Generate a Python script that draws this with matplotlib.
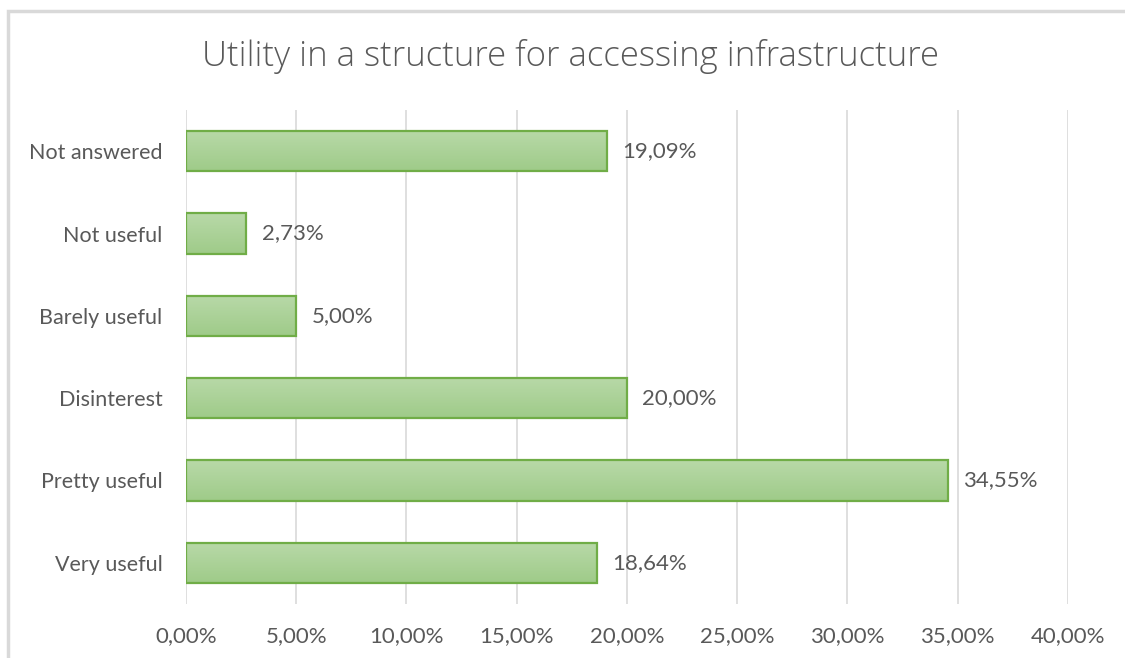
import matplotlib.pyplot as plt
import numpy as np
from matplotlib.patches import Rectangle
from matplotlib.colors import LinearSegmentedColormap

plt.rcParams['font.family'] = ['Lato', 'DejaVu Sans']

# survey answers, bottom to top as drawn
categories = ['Very useful', 'Pretty useful', 'Disinterest',
              'Barely useful', 'Not useful', 'Not answered']
shares = [18.64, 34.55, 20.00, 5.00, 2.73, 19.09]
ticks = [0, 5, 10, 15, 20, 25, 30, 35, 40]

text_col = '#595959'
grid_col = '#d9d9d9'

fig = plt.figure(figsize=(11.25, 6.58), dpi=100)
ax = fig.add_axes([0.1653, 0.0821, 0.9493 - 0.1653, 0.8328 - 0.0821])

# outer chart frame, runs off the right and bottom edges
fig.patches.append(Rectangle((8 / 1125, -0.1), 1.2, 1 - 11 / 658 + 0.1,
                             transform=fig.transFigure, fill=False,
                             edgecolor='#d9d9d9', linewidth=2.5))

y = np.arange(len(categories))
bars = ax.barh(y, shares, height=0.49, color='#acd39a',
               edgecolor='#70ad47', linewidth=1.6, zorder=3)

# soft vertical gradient inside each bar
grad = np.linspace(0, 1, 64).reshape(-1, 1)
cmap = LinearSegmentedColormap.from_list('g', ['#b8d9a8', '#9fcb89'])
for b in bars:
    x0, y0 = b.get_x(), b.get_y()
    w, h = b.get_width(), b.get_height()
    im = ax.imshow(grad, extent=(x0, x0 + w, y0, y0 + h), cmap=cmap,
                   aspect='auto', origin='upper', zorder=3.5)
    im.set_clip_path(b)
    b.set_facecolor('none')
    b.set_zorder(4)

for yi, v in zip(y, shares):
    ax.text(v + 0.7, yi, f'{v:.2f}%'.replace('.', ','), va='center',
            ha='left', fontsize=16, color=text_col)

ax.set_xlim(0, 40)
ax.set_ylim(-0.5, len(categories) - 0.5)
ax.set_xticks(ticks)
ax.set_xticklabels([f'{t:.2f}%'.replace('.', ',') for t in ticks])
ax.set_yticks(y)
ax.set_yticklabels(categories)
ax.tick_params(length=0, labelcolor=text_col)
ax.tick_params(axis='x', pad=16, labelsize=16)
ax.tick_params(axis='y', pad=17, labelsize=15.5)
ax.grid(axis='x', color=grid_col, linewidth=1.2, zorder=0)
for s in ax.spines.values():
    s.set_visible(False)

fig.text(0.5 * (200 + 940) / 1125, 1 - 57 / 658,
         'Utility in a structure for accessing infrastructure',
         ha='center', va='center', fontsize=25, color=text_col,
         family=['Open Sans', 'DejaVu Sans'], fontweight='light')

fig.savefig('out.png', dpi=100)
